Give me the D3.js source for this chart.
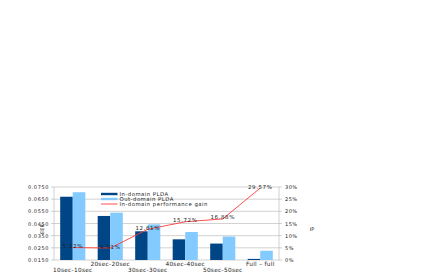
<!DOCTYPE html>
<meta charset="utf-8">
<style>
  body { margin: 0; background: #fff; }
  svg text { font-family: "DejaVu Sans", sans-serif; fill: #222; }
</style>
<body>
<script src="https://d3js.org/d3.v7.min.js"></script>
<div id="chart"></div>
<script>
  // values
  var categories = ["10sec-10sec", "20sec-20sec", "30sec-30sec", "40sec-40sec", "50sec-50sec", "Full \u2013 full"];
  var inDomain  = [0.0670, 0.0512, 0.0386, 0.0320, 0.0285, 0.0159];
  var outDomain = [0.0707, 0.0539, 0.0443, 0.0380, 0.0343, 0.0226];
  var gain      = [5.12, 4.91, 12.61, 15.72, 16.88, 29.57];
  var leftTicks = [0.0150, 0.0250, 0.0350, 0.0450, 0.0550, 0.0650, 0.0750];
  var rightTicks = [0, 5, 10, 15, 20, 25, 30];
  var seriesNames = ["In-domain PLDA", "Out-domain PLDA", "In-domain performance gain"];

  var W = 436, H = 273;
  var m = { left: 54, right: 157, top: 187, bottom: 13 };
  var iw = W - m.left - m.right, ih = H - m.top - m.bottom;

  var svg = d3.select("#chart").append("svg").attr("width", W).attr("height", H);
  var g = svg.append("g").attr("transform", "translate(" + m.left + "," + m.top + ")");

  var x = d3.scaleBand().domain(categories).range([0, iw]).paddingInner(0.33).paddingOuter(0.165);
  var xc = d3.scaleBand().domain(categories).range([0, iw]);
  var y = d3.scaleLinear().domain([0.015, 0.075]).range([ih, 0]);
  var y2 = d3.scaleLinear().domain([0, 30]).range([ih, 0]);

  // gridlines
  g.selectAll("line.grid").data(leftTicks).enter().append("line")
    .attr("x1", -3).attr("x2", iw + 3)
    .attr("y1", function(d) { return y(d); }).attr("y2", function(d) { return y(d); })
    .attr("stroke", "#b3b3b3").attr("stroke-width", 0.6);

  // axis lines
  g.append("line").attr("x1", 0).attr("x2", 0).attr("y1", 0).attr("y2", ih).attr("stroke", "#b3b3b3").attr("stroke-width", 0.6);
  g.append("line").attr("x1", iw).attr("x2", iw).attr("y1", 0).attr("y2", ih).attr("stroke", "#b3b3b3").attr("stroke-width", 0.6);

  var left = g.append("g").call(d3.axisLeft(y).tickValues(leftTicks).tickFormat(d3.format(".4f")).tickSize(0).tickPadding(5));
  left.select(".domain").remove();
  left.selectAll("text").style("font-size", "5px").style("font-family", "DejaVu Sans").style("letter-spacing", "0.6px");

  var right = g.append("g").attr("transform", "translate(" + iw + ",0)")
    .call(d3.axisRight(y2).tickValues(rightTicks).tickFormat(function(d) { return d + "%"; }).tickSize(0).tickPadding(6));
  right.select(".domain").remove();
  right.selectAll("text").style("font-size", "5px").style("font-family", "DejaVu Sans").style("letter-spacing", "0.5px");

  // bars
  var bw = x.bandwidth() / 2;
  g.selectAll("rect.in").data(inDomain).enter().append("rect")
    .attr("x", function(d, i) { return x(categories[i]); })
    .attr("y", function(d) { return y(d); })
    .attr("width", bw).attr("height", function(d) { return ih - y(d); })
    .attr("fill", "#004586");
  g.selectAll("rect.out").data(outDomain).enter().append("rect")
    .attr("x", function(d, i) { return x(categories[i]) + bw; })
    .attr("y", function(d) { return y(d); })
    .attr("width", bw).attr("height", function(d) { return ih - y(d); })
    .attr("fill", "#83caff");

  // gain line
  var cx = function(i) { return xc(categories[i]) + xc.bandwidth() / 2; };
  var line = d3.line().x(function(d, i) { return cx(i); }).y(function(d) { return y2(d); });
  g.append("path").datum(gain).attr("d", line).attr("fill", "none").attr("stroke", "#ff3b3b").attr("stroke-width", 0.9);

  g.selectAll("text.lab").data(gain).enter().append("text")
    .attr("x", function(d, i) { return cx(i); })
    .attr("y", function(d) { return y2(d) + 0.5; })
    .attr("text-anchor", "middle").style("font-size", "5.5px").style("letter-spacing", "0.6px")
    .text(function(d) { return d.toFixed(2) + "%"; });

  // category labels, staggered
  g.selectAll("text.cat").data(categories).enter().append("text")
    .attr("x", function(d) { return xc(d) + xc.bandwidth() / 2; })
    .attr("y", function(d, i) { return ih + (i % 2 === 0 ? 11.5 : 5.5); })
    .attr("text-anchor", "middle").style("font-size", "5.8px").style("letter-spacing", "0.3px")
    .text(function(d) { return d; });

  // axis titles
  svg.append("text").attr("transform", "translate(44,229) rotate(-90)")
    .attr("text-anchor", "middle").style("font-size", "5px").text("EER");
  svg.append("text").attr("transform", "translate(312,231)")
    .attr("text-anchor", "middle").style("font-size", "5px").text("IP");

  // legend
  var lg = svg.append("g").attr("transform", "translate(101,194)");
  var colors = ["#004586", "#83caff", "#ff3b3b"];
  seriesNames.forEach(function(s, i) {
    var row = lg.append("g").attr("transform", "translate(0," + i * 5 + ")");
    if (i < 2) row.append("rect").attr("x", 0).attr("y", -1.2).attr("width", 16.5).attr("height", 2.4).attr("fill", colors[i]);
    else row.append("line").attr("x1", 0).attr("x2", 16.5).attr("y1", 0).attr("y2", 0).attr("stroke", colors[i]).attr("stroke-width", 0.9);
    row.append("text").attr("x", 18.5).attr("y", 1.8).style("font-size", "5.3px").style("letter-spacing", "0.5px").text(s);
  });
</script>
</body>
